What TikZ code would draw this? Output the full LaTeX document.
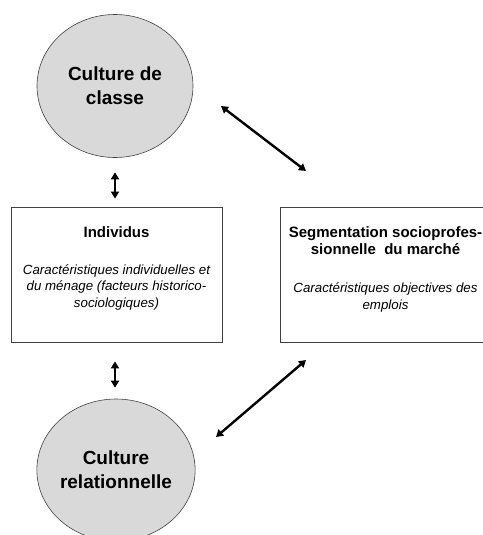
\documentclass[tikz,border=0pt]{standalone}
\usepackage{fontspec}
\setmainfont{Liberation Sans}
\usetikzlibrary{shapes.geometric,arrows.meta}
\definecolor{fondgris}{RGB}{217,217,217}
\definecolor{bordgris}{RGB}{64,64,64}

\begin{document}
\begin{tikzpicture}[x=1pt, y=-1pt,
	culture/.style={ellipse, draw=bordgris, fill=fondgris, line width=0.6pt, inner sep=0pt, align=center, font=\fontsize{19}{24}\selectfont\bfseries},
	cadre/.style={draw=bordgris, line width=0.8pt, minimum width=211pt, minimum height=135pt, inner sep=0pt},
	titre/.style={align=center, font=\fontsize{15}{16.5}\selectfont\bfseries},
	descr/.style={align=center, font=\fontsize{13.3}{16.5}\selectfont\itshape},
	lien/.style={line width=2.4pt, {Triangle[length=7pt,width=8pt]}-{Triangle[length=7pt,width=8pt]}}]
	\useasboundingbox (0,0) rectangle (482,535);
	\node[culture, minimum width=156pt, minimum height=143pt] (classe) at (115,86) {Culture de\\classe};
	\node[culture, minimum width=153pt, minimum height=142pt] (relation) at (116,470) {Culture\\relationnelle};
	\node[cadre] (indiv) at (116.5,274.5) {};
	\node[cadre] (segment) at (385.5,274.5) {};
	\node[titre] (indivT) at (116.5,232) {Individus};
	\node[titre] (segmentT) at (385.5,240.5) {Segmentation socioprofes-\\sionnelle\ \ du march\'e};
	\node[descr] (indivD) at (116.5,287) {Caract\'eristiques individuelles et\\du m\'enage (facteurs historico-\\sociologiques)};
	\node[descr] (segmentD) at (385.5,297.5) {Caract\'eristiques objectives des\\emplois};
	\coordinate (hautA) at (221,106);
	\coordinate (hautB) at (306,171);
	\coordinate (basA) at (306,360);
	\coordinate (basB) at (216,437);
	\draw[lien, shorten <=14.5pt, shorten >=8pt] (classe.south) -- (classe.south |- indiv.north);
	\draw[lien, shorten <=19pt, shorten >=11pt] (classe.south |- indiv.south) -- (classe.south |- relation.north);
	\draw[lien] (hautA) -- (hautB);
	\draw[lien] (basA) -- (basB);
\end{tikzpicture}
\end{document}
